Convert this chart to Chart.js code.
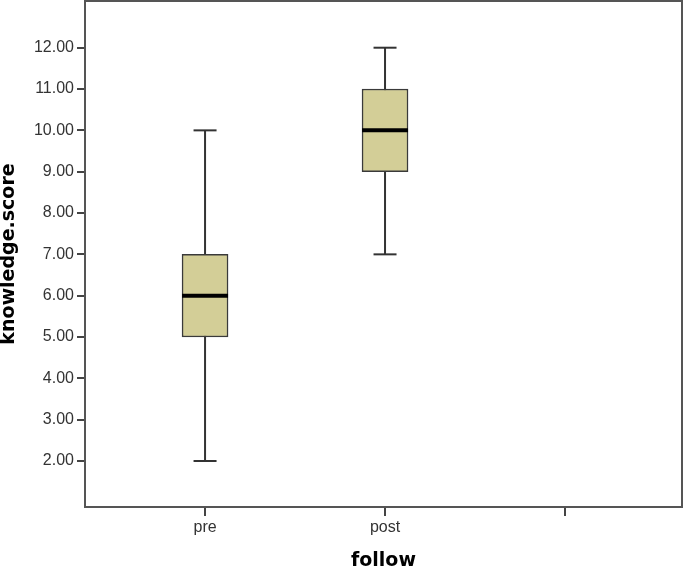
<!DOCTYPE html>
<html>
<head>
<meta charset="utf-8">
<script src="https://cdn.jsdelivr.net/npm/chart.js@4.4.1/dist/chart.umd.min.js"></script>
<style>
html,body{margin:0;padding:0;background:#fff;}
#wrap{width:685px;height:571px;}
</style>
</head>
<body>
<div id="wrap"><canvas id="c" width="685" height="571"></canvas></div>
<script>
// Data
const categories = ['pre', 'post'];
const categoryPositions = [1, 2];
const extraTickPositions = [3];
const minValues = [2, 7];
const q1Values = [5, 9];
const medianValues = [6, 10];
const q3Values = [7, 11];
const maxValues = [10, 12];
const yTickValues = [2, 3, 4, 5, 6, 7, 8, 9, 10, 11, 12];

const boxData = categoryPositions.map((x, i) => ({x: x, y: [q1Values[i], q3Values[i]]}));
const whiskerData = [];
categoryPositions.forEach((x, i) => {
  whiskerData.push({x: x, y: minValues[i]});
  whiskerData.push({x: x, y: maxValues[i]});
  whiskerData.push({x: x, y: null});
});
const capData = [];
categoryPositions.forEach((x, i) => {
  capData.push({x: x, y: minValues[i]});
  capData.push({x: x, y: maxValues[i]});
});
const medianData = categoryPositions.map((x, i) => ({x: x, y: medianValues[i]}));
const xTicks = categoryPositions.concat(extraTickPositions);
const xLabels = categories.concat(['']);

const framePlugin = {
  id: 'frame',
  afterDraw(chart) {
    const a = chart.chartArea;
    const ctx = chart.ctx;
    ctx.save();
    ctx.strokeStyle = '#555';
    ctx.lineWidth = 2;
    ctx.strokeRect(a.left, a.top, a.right - a.left, a.bottom - a.top);
    ctx.restore();
  }
};

new Chart(document.getElementById('c'), {
  type: 'bar',
  data: {
    datasets: [
      {
        type: 'scatter',
        data: medianData,
        pointStyle: 'line',
        radius: 23,
        borderColor: '#000',
        borderWidth: 4,
        order: 0
      },
      {
        type: 'bar',
        data: boxData,
        backgroundColor: '#D3CE97',
        borderColor: '#3a3a3a',
        borderWidth: 1.5,
        borderSkipped: false,
        barThickness: 46,
        order: 1
      },
      {
        type: 'line',
        data: whiskerData,
        borderColor: '#333',
        borderWidth: 2,
        pointRadius: 0,
        spanGaps: false,
        fill: false,
        order: 2
      },
      {
        type: 'scatter',
        data: capData,
        pointStyle: 'line',
        radius: 11.5,
        borderColor: '#333',
        borderWidth: 2,
        order: 2
      }
    ]
  },
  options: {
    responsive: false,
    animation: false,
    events: [],
    layout: {autoPadding: false, padding: {top: 1, right: 3, left: 0, bottom: 0}},
    plugins: {legend: {display: false}, tooltip: {enabled: false}},
    scales: {
      x: {
        type: 'linear',
        min: 0.333,
        max: 3.65,
        offset: false,
        afterBuildTicks(scale) { scale.ticks = xTicks.map(v => ({value: v})); },
        afterFit(scale) { scale.height = 64; scale.paddingLeft = 0; scale.paddingRight = 0; },
        ticks: {
          autoSkip: false,
          maxRotation: 0,
          padding: 2,
          color: '#333',
          font: {family: '"Liberation Sans", Arial, sans-serif', size: 16},
          callback: (v) => { const i = xTicks.indexOf(v); return i >= 0 ? xLabels[i] : ''; }
        },
        grid: {offset: false, drawOnChartArea: false, drawTicks: true, tickLength: 9, color: '#444', lineWidth: 2},
        border: {display: true, color: '#444', width: 2},
        title: {
          display: true,
          text: 'follow',
          color: '#000',
          padding: 0,
          font: {family: '"DejaVu Sans", sans-serif', size: 19, weight: 'bold', lineHeight: 1}
        }
      },
      y: {
        type: 'linear',
        min: 0.887,
        max: 13.13,
        afterBuildTicks(scale) { scale.ticks = yTickValues.map(v => ({value: v})); },
        afterFit(scale) { scale.width = 85; scale.paddingTop = 0; scale.paddingBottom = 0; },
        ticks: {
          autoSkip: false,
          padding: 3,
          color: '#333',
          font: {family: '"Liberation Sans", Arial, sans-serif', size: 16},
          callback: (v) => Number(v).toFixed(2)
        },
        grid: {drawOnChartArea: false, drawTicks: true, tickLength: 8, color: '#444', lineWidth: 2},
        border: {display: true, color: '#444', width: 2},
        title: {
          display: true,
          text: 'knowledge.score',
          color: '#000',
          padding: 0,
          font: {family: '"DejaVu Sans", sans-serif', size: 19, weight: 'bold', lineHeight: 1}
        }
      }
    }
  },
  plugins: [framePlugin]
});
</script>
</body>
</html>
